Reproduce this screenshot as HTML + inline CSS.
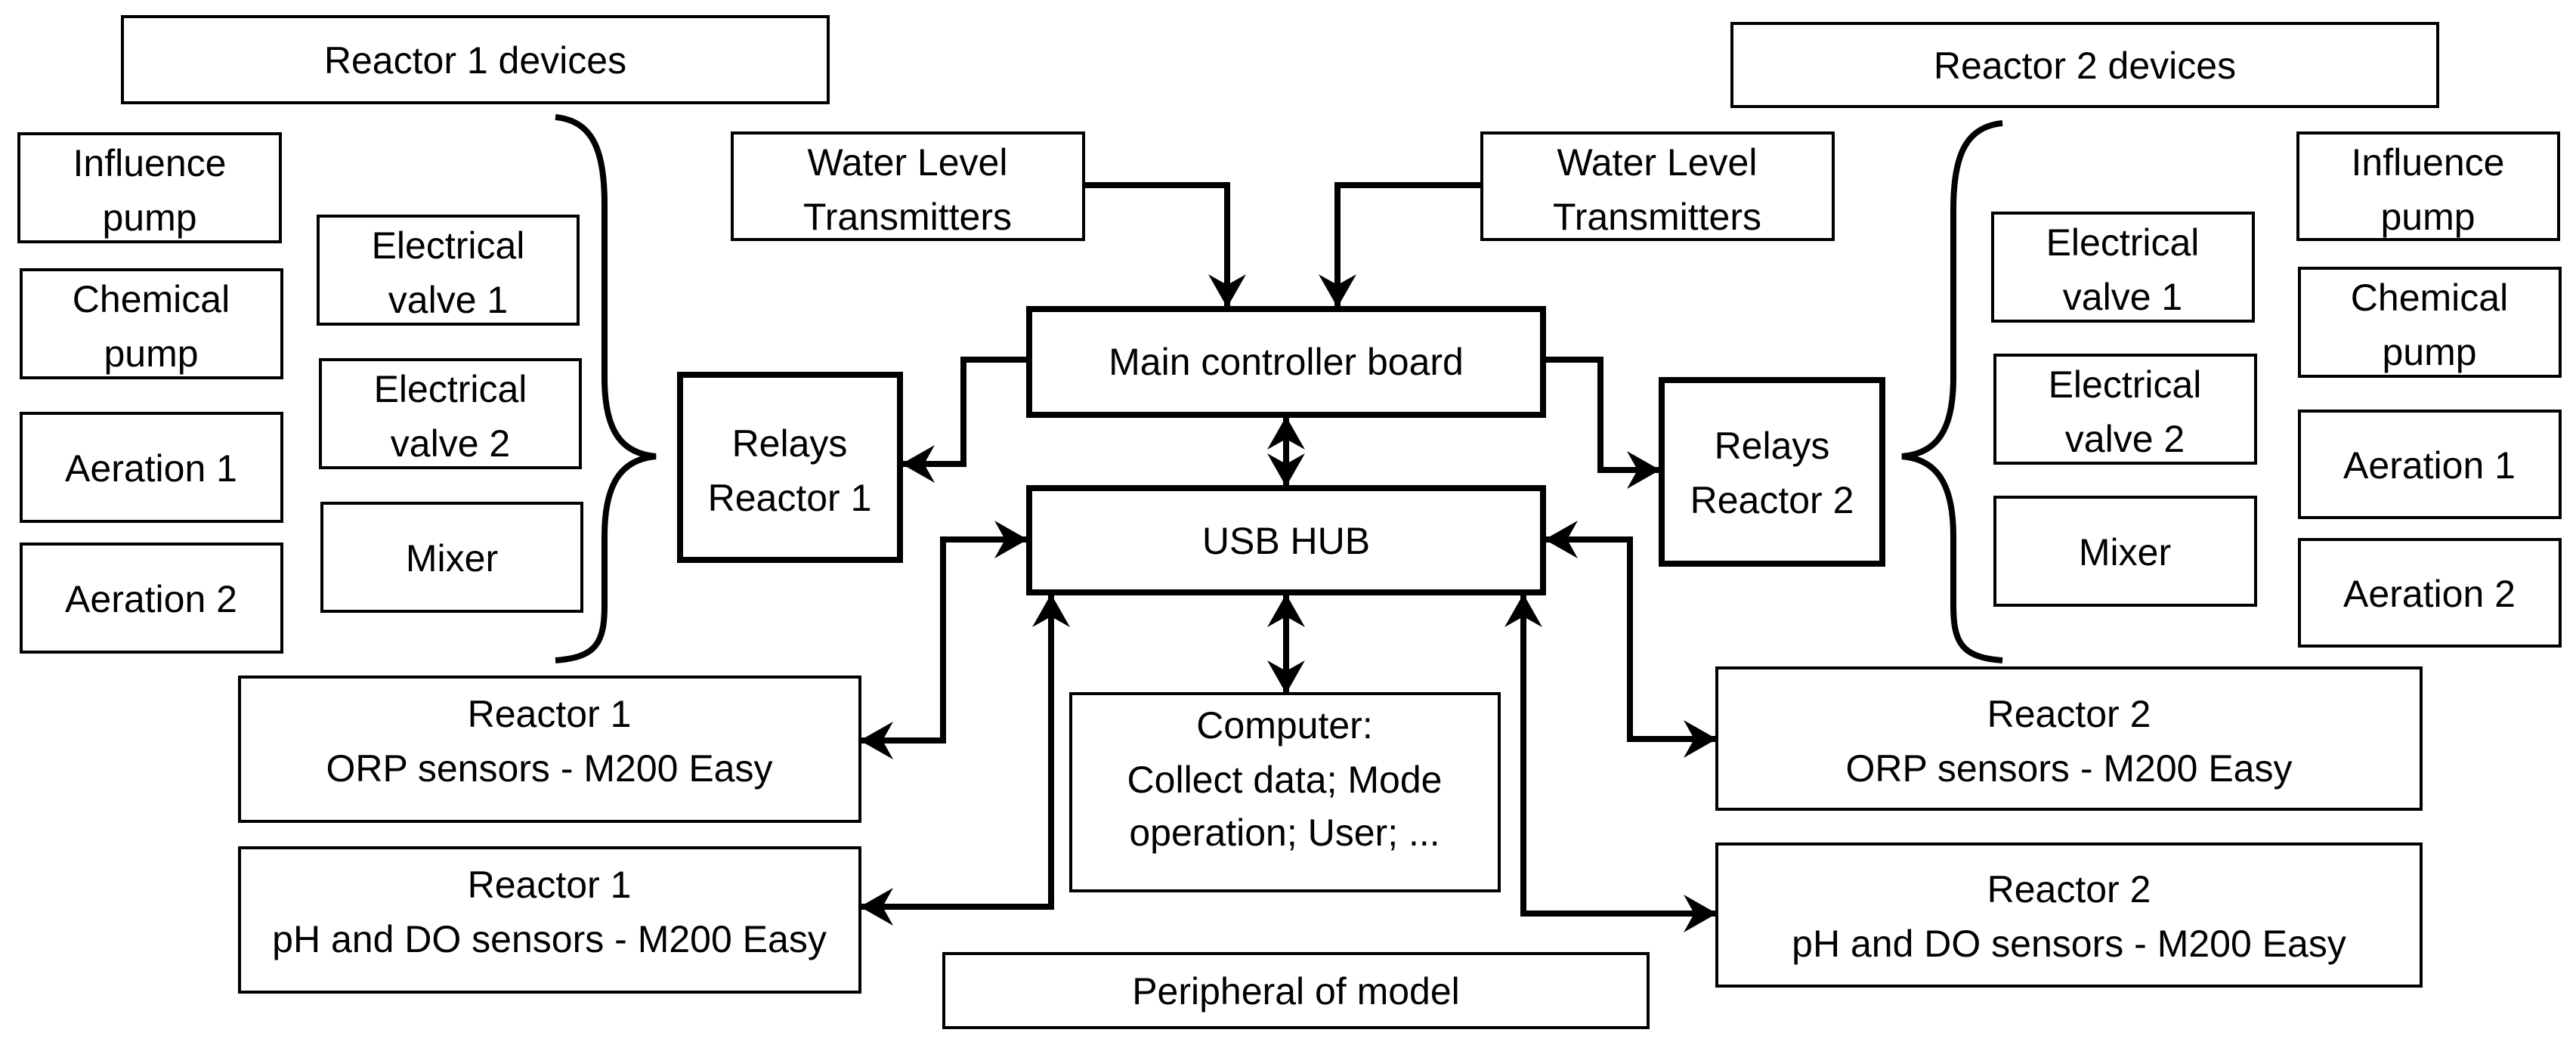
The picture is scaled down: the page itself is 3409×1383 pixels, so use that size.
<!DOCTYPE html>
<html><head><meta charset="utf-8"><style>
html,body{margin:0;padding:0;background:#fff;}
svg{display:block;}
text{font-family:"Liberation Sans",sans-serif;font-size:50px;fill:#000;text-anchor:middle;}
</style></head><body>
<svg width="3409" height="1383" viewBox="0 0 3409 1383" xmlns="http://www.w3.org/2000/svg">
<defs>
<marker id="a" viewBox="0 0 44 50" refX="42" refY="25" markerWidth="44" markerHeight="50" markerUnits="userSpaceOnUse" orient="auto-start-reverse">
<path d="M0,0 L44,25 L0,50 L14,25 Z" fill="#000"/>
</marker>
</defs>
<g fill="#fff" stroke="#000" stroke-width="4">
<rect x="162" y="22" width="934" height="114"/>
<rect x="25" y="177" width="346" height="143"/>
<rect x="28" y="357" width="345" height="143"/>
<rect x="28" y="547" width="345" height="143"/>
<rect x="28" y="720" width="345" height="143"/>
<rect x="421" y="286" width="344" height="143"/>
<rect x="424" y="476" width="344" height="143"/>
<rect x="426" y="666" width="344" height="143"/>
<rect x="317" y="896" width="821" height="191"/>
<rect x="317" y="1122" width="821" height="191"/>
<rect x="969" y="176" width="465" height="141"/>
<rect x="2292" y="31" width="934" height="110"/>
<rect x="1961" y="176" width="465" height="141"/>
<rect x="2637" y="282" width="345" height="143"/>
<rect x="2640" y="470" width="345" height="143"/>
<rect x="2640" y="658" width="345" height="143"/>
<rect x="3041" y="176" width="345" height="141"/>
<rect x="3043" y="355" width="345" height="143"/>
<rect x="3043" y="544" width="345" height="141"/>
<rect x="3043" y="714" width="345" height="141"/>
<rect x="2272" y="884" width="932" height="187"/>
<rect x="2272" y="1117" width="932" height="188"/>
<rect x="1417" y="918" width="567" height="261"/>
<rect x="1249" y="1262" width="932" height="98"/>
</g>
<g fill="#fff" stroke="#000" stroke-width="8">
<rect x="1362" y="409" width="680" height="140"/>
<rect x="1362" y="646" width="680" height="138"/>
<rect x="900" y="496" width="291" height="245"/>
<rect x="2199" y="503" width="292" height="243"/>
</g>
<g fill="none" stroke="#000" stroke-width="8">
<path d="M735,155 C785,160 800,200 800,270 L800,500 C800,570 822,600 868,604 C822,608 800,640 800,710 L800,800 C800,850 790,870 735,874"/>
<path d="M2650,163 C2600,168 2585,208 2585,278 L2585,500 C2585,570 2563,600 2517,604 C2563,608 2585,640 2585,710 L2585,800 C2585,850 2595,870 2650,874"/>
</g>
<g fill="none" stroke="#000" stroke-width="8" stroke-linejoin="miter">
<polyline points="1434,245 1624,245 1624,405" marker-end="url(#a)"/>
<polyline points="1961,245 1770,245 1770,405" marker-end="url(#a)"/>
<polyline points="1358,476 1275,476 1275,614 1195,614" marker-end="url(#a)"/>
<polyline points="2046,476 2118,476 2118,622 2195,622" marker-end="url(#a)"/>
<line x1="1702" y1="553" x2="1702" y2="642" marker-start="url(#a)" marker-end="url(#a)"/>
<line x1="1702" y1="788" x2="1702" y2="916" marker-start="url(#a)" marker-end="url(#a)"/>
<polyline points="1358,714 1248,714 1248,980 1140,980" marker-start="url(#a)" marker-end="url(#a)"/>
<polyline points="1391,788 1391,1200 1140,1200" marker-start="url(#a)" marker-end="url(#a)"/>
<polyline points="2046,714 2157,714 2157,978 2270,978" marker-start="url(#a)" marker-end="url(#a)"/>
<polyline points="2016,788 2016,1209 2270,1209" marker-start="url(#a)" marker-end="url(#a)"/>
</g>
<text x="629" y="97">Reactor 1 devices</text>
<text x="198" y="233">Influence</text><text x="198" y="305">pump</text>
<text x="200" y="413">Chemical</text><text x="200" y="485">pump</text>
<text x="200" y="637">Aeration 1</text>
<text x="200" y="810">Aeration 2</text>
<text x="593" y="342">Electrical</text><text x="593" y="414">valve 1</text>
<text x="596" y="532">Electrical</text><text x="596" y="604">valve 2</text>
<text x="598" y="756">Mixer</text>
<text x="1045" y="604">Relays</text><text x="1045" y="676">Reactor 1</text>
<text x="1201" y="232">Water Level</text><text x="1201" y="304">Transmitters</text>
<text x="727" y="962">Reactor 1</text><text x="727" y="1034">ORP sensors - M200 Easy</text>
<text x="727" y="1188">Reactor 1</text><text x="727" y="1260">pH and DO sensors - M200 Easy</text>
<text x="1702" y="496">Main controller board</text>
<text x="1702" y="733">USB HUB</text>
<text x="1700" y="977">Computer:</text>
<text x="1700" y="1049">Collect data; Mode</text>
<text x="1700" y="1119">operation; User; ...</text>
<text x="1715" y="1329">Peripheral of model</text>
<text x="2193" y="232">Water Level</text><text x="2193" y="304">Transmitters</text>
<text x="2345" y="607">Relays</text><text x="2345" y="679">Reactor 2</text>
<text x="2759" y="104">Reactor 2 devices</text>
<text x="2809" y="338">Electrical</text><text x="2809" y="410">valve 1</text>
<text x="2812" y="526">Electrical</text><text x="2812" y="598">valve 2</text>
<text x="2812" y="748">Mixer</text>
<text x="3213" y="232">Influence</text><text x="3213" y="304">pump</text>
<text x="3215" y="411">Chemical</text><text x="3215" y="483">pump</text>
<text x="3215" y="633">Aeration 1</text>
<text x="3215" y="803">Aeration 2</text>
<text x="2738" y="962">Reactor 2</text><text x="2738" y="1034">ORP sensors - M200 Easy</text>
<text x="2738" y="1194">Reactor 2</text><text x="2738" y="1266">pH and DO sensors - M200 Easy</text>
</svg>
</body></html>
